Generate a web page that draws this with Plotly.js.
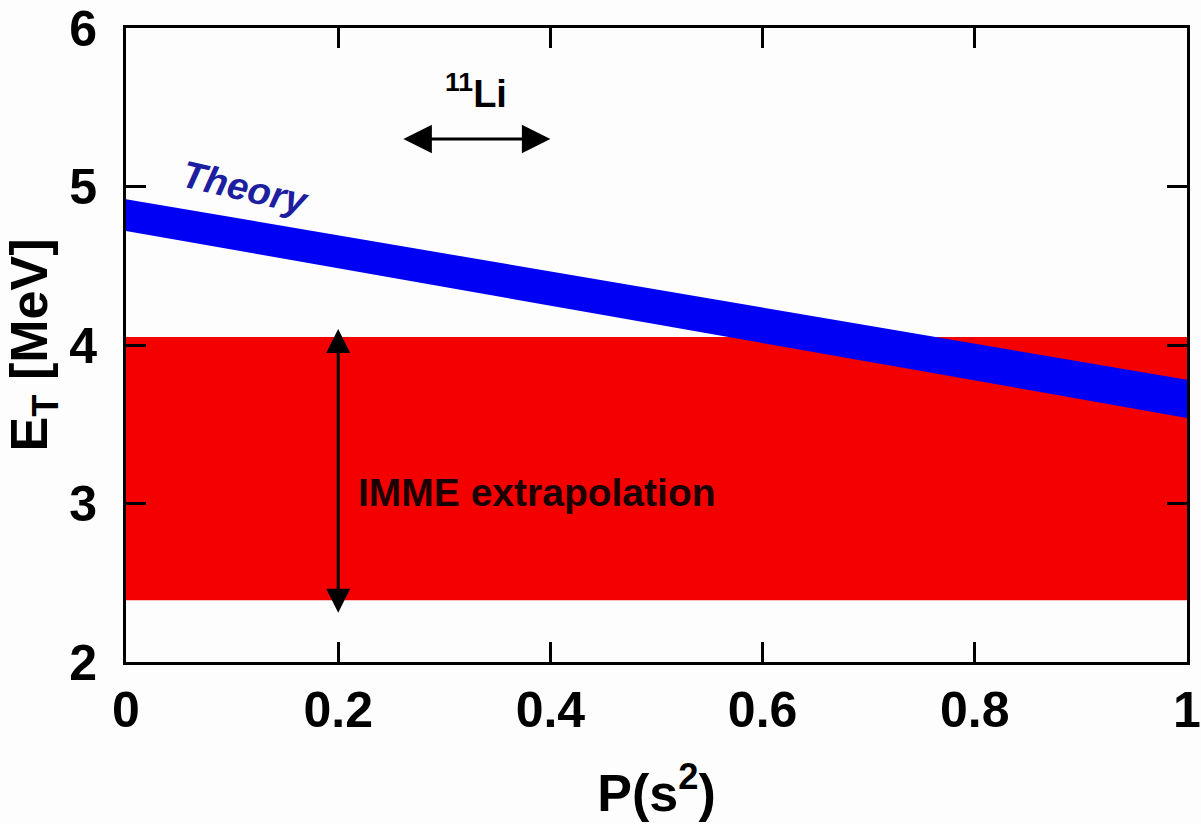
<!DOCTYPE html>
<html>
<head>
<meta charset="utf-8">
<script src="https://cdn.plot.ly/plotly-3.0.1.min.js"></script>
<style>html,body{margin:0;padding:0;background:#fff;}#chart{width:1201px;height:824px;}</style>
</head>
<body>
<div id="chart"></div>
<script>
// Data
const P = [0, 1];
const theoryLow = [4.72, 3.54];
const theoryHigh = [4.92, 3.78];
const immeLow = [2.39, 2.39];
const immeHigh = [4.05, 4.05];
const xTicks = [0, 0.2, 0.4, 0.6, 0.8, 1];
const xTickText = ["0", "0.2", "0.4", "0.6", "0.8", "1"];
const yTicks = [2, 3, 4, 5, 6];
const yTickText = ["2", "3", "4", "5", "6"];
// arrow ends in data units
const immeArrowX = 0.2, immeArrowTop = 4.11, immeArrowBottom = 2.31;
const liArrowY = 5.30, liArrowLeft = 0.26, liArrowRight = 0.40;

const FONT = "Liberation Sans, Arial, sans-serif";

const traces = [
  {x: P, y: immeLow, mode: 'lines', line: {width: 0, color: '#f00000'}, hoverinfo: 'skip', showlegend: false},
  {x: P, y: immeHigh, mode: 'lines', line: {width: 0, color: '#f00000'}, fill: 'tonexty', fillcolor: '#f50000', hoverinfo: 'skip', showlegend: false},
  {x: P, y: theoryLow, mode: 'lines', line: {width: 0, color: '#0000ff'}, hoverinfo: 'skip', showlegend: false},
  {x: P, y: theoryHigh, mode: 'lines', line: {width: 0, color: '#0000ff'}, fill: 'tonexty', fillcolor: '#0000f5', hoverinfo: 'skip', showlegend: false}
];

const layout = {
  width: 1201, height: 824,
  margin: {l: 126, r: 14, t: 28, b: 162},
  paper_bgcolor: '#fdfdfd', plot_bgcolor: '#fdfdfd',
  font: {family: FONT, color: '#000'},
  showlegend: false,
  xaxis: {
    range: [0, 1], tickvals: xTicks, ticktext: xTickText,
    showgrid: false, zeroline: false,
    showline: true, linecolor: '#000', linewidth: 3, mirror: 'ticks',
    ticks: 'inside', ticklen: 20, tickwidth: 3, tickcolor: '#000',
    tickfont: {family: FONT, size: 50, weight: 'bold', color: '#000'},
    ticklabelstandoff: 2,
    title: {text: 'P(s<sup>2</sup>)', font: {family: FONT, size: 52, weight: 'bold', color: '#000'}, standoff: 38}
  },
  yaxis: {
    range: [2, 6], tickvals: yTicks, ticktext: yTickText,
    showgrid: false, zeroline: false,
    showline: true, linecolor: '#000', linewidth: 3, mirror: 'ticks',
    ticks: 'inside', ticklen: 20, tickwidth: 3, tickcolor: '#000',
    tickfont: {family: FONT, size: 50, weight: 'bold', color: '#000'},
    ticklabelstandoff: 16,
    title: {text: 'E<sub>T</sub> [MeV]', font: {family: FONT, size: 52, weight: 'bold', color: '#000'}, standoff: 6}
  },
  annotations: [
    {x: immeArrowX, y: immeArrowBottom, ax: immeArrowX, ay: immeArrowTop, xref: 'x', yref: 'y', axref: 'x', ayref: 'y',
     text: '', showarrow: true, arrowside: 'end+start', arrowhead: 2, startarrowhead: 2,
     arrowsize: 1.6, startarrowsize: 1.6, arrowwidth: 3, arrowcolor: '#000', standoff: 0, startstandoff: 0},
    {x: liArrowRight, y: liArrowY, ax: liArrowLeft, ay: liArrowY, xref: 'x', yref: 'y', axref: 'x', ayref: 'y',
     text: '', showarrow: true, arrowside: 'end+start', arrowhead: 2, startarrowhead: 2,
     arrowsize: 1.9, startarrowsize: 1.9, arrowwidth: 3, arrowcolor: '#000', standoff: 0, startstandoff: 0},
    {x: 0.33, y: 5.6, xref: 'x', yref: 'y', showarrow: false, text: '<sup>11</sup>Li',
     font: {family: FONT, size: 38, weight: 'bold', color: '#000'}},
    {x: 0.113, y: 4.99, xref: 'x', yref: 'y', showarrow: false, text: '<i>Theory</i>', textangle: 13,
     font: {family: FONT, size: 38, weight: 'bold', color: '#1e1ea0'}},
    {x: 0.387, y: 3.07, xref: 'x', yref: 'y', showarrow: false, text: 'IMME extrapolation',
     font: {family: FONT, size: 39, weight: 'bold', color: '#1a0000'}}
  ]
};

Plotly.newPlot('chart', traces, layout, {displayModeBar: false, staticPlot: true});
</script>
</body>
</html>
